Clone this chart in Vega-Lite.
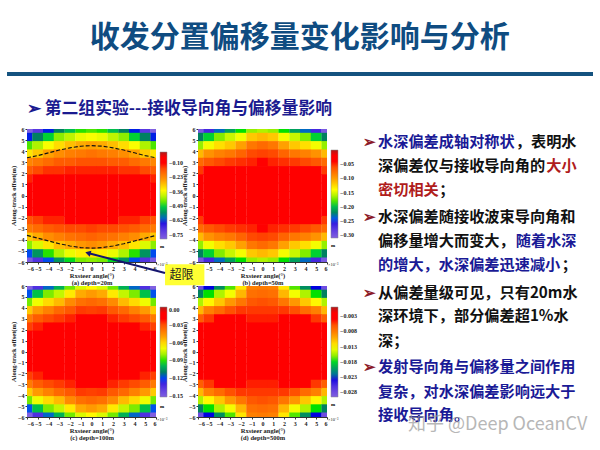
{"$schema":"https://vega.github.io/schema/vega-lite/v6.json","background":"white","padding":{"left":7,"top":0,"right":0,"bottom":0},"config":{"view":{"stroke":null},"axis":{"grid":false,"labelFont":"Liberation Serif","labelFontWeight":"bold","labelFontSize":6,"labelColor":"#222","labelPadding":1,"labelAngle":0,"titleFont":"Liberation Serif","titleFontWeight":"bold","titleFontSize":6.5,"titleColor":"#222","titlePadding":1,"titleLineHeight":7,"tickSize":2,"tickColor":"#333","domainColor":"#333"},"legend":{"labelFont":"Liberation Serif","labelFontWeight":"bold","labelFontSize":6,"labelColor":"#222","titleFont":"Liberation Serif","titleFontSize":5,"titleFontWeight":"bold","gradientStrokeColor":"#888","gradientStrokeWidth":0.5}},"datasets":{"a":[
{"x":-6,"y":6,"v":-0.79},{"x":-5,"y":6,"v":-0.71},{"x":-4,"y":6,"v":-0.63},{"x":-3,"y":6,"v":-0.57},{"x":-2,"y":6,"v":-0.51},{"x":-1,"y":6,"v":-0.47},{"x":0,"y":6,"v":-0.46},{"x":1,"y":6,"v":-0.47},{"x":2,"y":6,"v":-0.51},{"x":3,"y":6,"v":-0.57},{"x":4,"y":6,"v":-0.63},{"x":5,"y":6,"v":-0.71},{"x":6,"y":6,"v":-0.79},
{"x":-6,"y":5.25,"v":-0.63},{"x":-5,"y":5.25,"v":-0.57},{"x":-4,"y":5.25,"v":-0.49},{"x":-3,"y":5.25,"v":-0.43},{"x":-2,"y":5.25,"v":-0.4},{"x":-1,"y":5.25,"v":-0.37},{"x":0,"y":5.25,"v":-0.36},{"x":1,"y":5.25,"v":-0.37},{"x":2,"y":5.25,"v":-0.4},{"x":3,"y":5.25,"v":-0.43},{"x":4,"y":5.25,"v":-0.49},{"x":5,"y":5.25,"v":-0.57},{"x":6,"y":5.25,"v":-0.63},
{"x":-6,"y":4.5,"v":-0.46},{"x":-5,"y":4.5,"v":-0.41},{"x":-4,"y":4.5,"v":-0.36},{"x":-3,"y":4.5,"v":-0.32},{"x":-2,"y":4.5,"v":-0.29},{"x":-1,"y":4.5,"v":-0.27},{"x":0,"y":4.5,"v":-0.26},{"x":1,"y":4.5,"v":-0.27},{"x":2,"y":4.5,"v":-0.29},{"x":3,"y":4.5,"v":-0.32},{"x":4,"y":4.5,"v":-0.36},{"x":5,"y":4.5,"v":-0.41},{"x":6,"y":4.5,"v":-0.46},
{"x":-6,"y":3.75,"v":-0.33},{"x":-5,"y":3.75,"v":-0.3},{"x":-4,"y":3.75,"v":-0.26},{"x":-3,"y":3.75,"v":-0.24},{"x":-2,"y":3.75,"v":-0.22},{"x":-1,"y":3.75,"v":-0.21},{"x":0,"y":3.75,"v":-0.2},{"x":1,"y":3.75,"v":-0.21},{"x":2,"y":3.75,"v":-0.22},{"x":3,"y":3.75,"v":-0.24},{"x":4,"y":3.75,"v":-0.26},{"x":5,"y":3.75,"v":-0.3},{"x":6,"y":3.75,"v":-0.33},
{"x":-6,"y":3,"v":-0.23},{"x":-5,"y":3,"v":-0.21},{"x":-4,"y":3,"v":-0.19},{"x":-3,"y":3,"v":-0.17},{"x":-2,"y":3,"v":-0.17},{"x":-1,"y":3,"v":-0.16},{"x":0,"y":3,"v":-0.16},{"x":1,"y":3,"v":-0.16},{"x":2,"y":3,"v":-0.17},{"x":3,"y":3,"v":-0.17},{"x":4,"y":3,"v":-0.19},{"x":5,"y":3,"v":-0.21},{"x":6,"y":3,"v":-0.23},
{"x":-6,"y":2.25,"v":-0.17},{"x":-5,"y":2.25,"v":-0.15},{"x":-4,"y":2.25,"v":-0.13},{"x":-3,"y":2.25,"v":-0.13},{"x":-2,"y":2.25,"v":-0.12},{"x":-1,"y":2.25,"v":-0.12},{"x":0,"y":2.25,"v":-0.12},{"x":1,"y":2.25,"v":-0.12},{"x":2,"y":2.25,"v":-0.12},{"x":3,"y":2.25,"v":-0.13},{"x":4,"y":2.25,"v":-0.13},{"x":5,"y":2.25,"v":-0.15},{"x":6,"y":2.25,"v":-0.17},
{"x":-6,"y":1.5,"v":-0.12},{"x":-5,"y":1.5,"v":-0.11},{"x":-4,"y":1.5,"v":-0.1},{"x":-3,"y":1.5,"v":-0.09},{"x":-2,"y":1.5,"v":-0.09},{"x":-1,"y":1.5,"v":-0.09},{"x":0,"y":1.5,"v":-0.09},{"x":1,"y":1.5,"v":-0.09},{"x":2,"y":1.5,"v":-0.09},{"x":3,"y":1.5,"v":-0.09},{"x":4,"y":1.5,"v":-0.1},{"x":5,"y":1.5,"v":-0.11},{"x":6,"y":1.5,"v":-0.12},
{"x":-6,"y":0.75,"v":-0.09},{"x":-5,"y":0.75,"v":-0.08},{"x":-4,"y":0.75,"v":-0.08},{"x":-3,"y":0.75,"v":-0.08},{"x":-2,"y":0.75,"v":-0.08},{"x":-1,"y":0.75,"v":-0.08},{"x":0,"y":0.75,"v":-0.08},{"x":1,"y":0.75,"v":-0.08},{"x":2,"y":0.75,"v":-0.08},{"x":3,"y":0.75,"v":-0.08},{"x":4,"y":0.75,"v":-0.08},{"x":5,"y":0.75,"v":-0.08},{"x":6,"y":0.75,"v":-0.09},
{"x":-6,"y":0,"v":-0.08},{"x":-5,"y":0,"v":-0.08},{"x":-4,"y":0,"v":-0.08},{"x":-3,"y":0,"v":-0.08},{"x":-2,"y":0,"v":-0.08},{"x":-1,"y":0,"v":-0.08},{"x":0,"y":0,"v":-0.08},{"x":1,"y":0,"v":-0.08},{"x":2,"y":0,"v":-0.08},{"x":3,"y":0,"v":-0.08},{"x":4,"y":0,"v":-0.08},{"x":5,"y":0,"v":-0.08},{"x":6,"y":0,"v":-0.08},
{"x":-6,"y":-0.75,"v":-0.09},{"x":-5,"y":-0.75,"v":-0.08},{"x":-4,"y":-0.75,"v":-0.08},{"x":-3,"y":-0.75,"v":-0.08},{"x":-2,"y":-0.75,"v":-0.08},{"x":-1,"y":-0.75,"v":-0.08},{"x":0,"y":-0.75,"v":-0.08},{"x":1,"y":-0.75,"v":-0.08},{"x":2,"y":-0.75,"v":-0.08},{"x":3,"y":-0.75,"v":-0.08},{"x":4,"y":-0.75,"v":-0.08},{"x":5,"y":-0.75,"v":-0.08},{"x":6,"y":-0.75,"v":-0.09},
{"x":-6,"y":-1.5,"v":-0.11},{"x":-5,"y":-1.5,"v":-0.1},{"x":-4,"y":-1.5,"v":-0.09},{"x":-3,"y":-1.5,"v":-0.09},{"x":-2,"y":-1.5,"v":-0.09},{"x":-1,"y":-1.5,"v":-0.09},{"x":0,"y":-1.5,"v":-0.09},{"x":1,"y":-1.5,"v":-0.09},{"x":2,"y":-1.5,"v":-0.09},{"x":3,"y":-1.5,"v":-0.09},{"x":4,"y":-1.5,"v":-0.09},{"x":5,"y":-1.5,"v":-0.1},{"x":6,"y":-1.5,"v":-0.11},
{"x":-6,"y":-2.25,"v":-0.16},{"x":-5,"y":-2.25,"v":-0.14},{"x":-4,"y":-2.25,"v":-0.12},{"x":-3,"y":-2.25,"v":-0.12},{"x":-2,"y":-2.25,"v":-0.11},{"x":-1,"y":-2.25,"v":-0.11},{"x":0,"y":-2.25,"v":-0.11},{"x":1,"y":-2.25,"v":-0.11},{"x":2,"y":-2.25,"v":-0.11},{"x":3,"y":-2.25,"v":-0.12},{"x":4,"y":-2.25,"v":-0.12},{"x":5,"y":-2.25,"v":-0.14},{"x":6,"y":-2.25,"v":-0.16},
{"x":-6,"y":-3,"v":-0.21},{"x":-5,"y":-3,"v":-0.19},{"x":-4,"y":-3,"v":-0.17},{"x":-3,"y":-3,"v":-0.16},{"x":-2,"y":-3,"v":-0.15},{"x":-1,"y":-3,"v":-0.15},{"x":0,"y":-3,"v":-0.14},{"x":1,"y":-3,"v":-0.15},{"x":2,"y":-3,"v":-0.15},{"x":3,"y":-3,"v":-0.16},{"x":4,"y":-3,"v":-0.17},{"x":5,"y":-3,"v":-0.19},{"x":6,"y":-3,"v":-0.21},
{"x":-6,"y":-3.75,"v":-0.3},{"x":-5,"y":-3.75,"v":-0.27},{"x":-4,"y":-3.75,"v":-0.24},{"x":-3,"y":-3.75,"v":-0.22},{"x":-2,"y":-3.75,"v":-0.2},{"x":-1,"y":-3.75,"v":-0.19},{"x":0,"y":-3.75,"v":-0.18},{"x":1,"y":-3.75,"v":-0.19},{"x":2,"y":-3.75,"v":-0.2},{"x":3,"y":-3.75,"v":-0.22},{"x":4,"y":-3.75,"v":-0.24},{"x":5,"y":-3.75,"v":-0.27},{"x":6,"y":-3.75,"v":-0.3},
{"x":-6,"y":-4.5,"v":-0.43},{"x":-5,"y":-4.5,"v":-0.38},{"x":-4,"y":-4.5,"v":-0.33},{"x":-3,"y":-4.5,"v":-0.29},{"x":-2,"y":-4.5,"v":-0.27},{"x":-1,"y":-4.5,"v":-0.25},{"x":0,"y":-4.5,"v":-0.24},{"x":1,"y":-4.5,"v":-0.25},{"x":2,"y":-4.5,"v":-0.27},{"x":3,"y":-4.5,"v":-0.29},{"x":4,"y":-4.5,"v":-0.33},{"x":5,"y":-4.5,"v":-0.38},{"x":6,"y":-4.5,"v":-0.43},
{"x":-6,"y":-5.25,"v":-0.62},{"x":-5,"y":-5.25,"v":-0.55},{"x":-4,"y":-5.25,"v":-0.47},{"x":-3,"y":-5.25,"v":-0.41},{"x":-2,"y":-5.25,"v":-0.37},{"x":-1,"y":-5.25,"v":-0.34},{"x":0,"y":-5.25,"v":-0.33},{"x":1,"y":-5.25,"v":-0.34},{"x":2,"y":-5.25,"v":-0.37},{"x":3,"y":-5.25,"v":-0.41},{"x":4,"y":-5.25,"v":-0.47},{"x":5,"y":-5.25,"v":-0.55},{"x":6,"y":-5.25,"v":-0.62},
{"x":-6,"y":-6,"v":-0.78},{"x":-5,"y":-6,"v":-0.7},{"x":-4,"y":-6,"v":-0.62},{"x":-3,"y":-6,"v":-0.55},{"x":-2,"y":-6,"v":-0.48},{"x":-1,"y":-6,"v":-0.44},{"x":0,"y":-6,"v":-0.43},{"x":1,"y":-6,"v":-0.44},{"x":2,"y":-6,"v":-0.48},{"x":3,"y":-6,"v":-0.55},{"x":4,"y":-6,"v":-0.62},{"x":5,"y":-6,"v":-0.7},{"x":6,"y":-6,"v":-0.78}],
"b":[
{"x":-6,"y":6,"v":-0.304},{"x":-5,"y":6,"v":-0.267},{"x":-4,"y":6,"v":-0.236},{"x":-3,"y":6,"v":-0.211},{"x":-2,"y":6,"v":-0.186},{"x":-1,"y":6,"v":-0.167},{"x":0,"y":6,"v":-0.161},{"x":1,"y":6,"v":-0.167},{"x":2,"y":6,"v":-0.186},{"x":3,"y":6,"v":-0.211},{"x":4,"y":6,"v":-0.236},{"x":5,"y":6,"v":-0.267},{"x":6,"y":6,"v":-0.304},
{"x":-6,"y":5.25,"v":-0.223},{"x":-5,"y":5.25,"v":-0.192},{"x":-4,"y":5.25,"v":-0.171},{"x":-3,"y":5.25,"v":-0.155},{"x":-2,"y":5.25,"v":-0.143},{"x":-1,"y":5.25,"v":-0.118},{"x":0,"y":5.25,"v":-0.112},{"x":1,"y":5.25,"v":-0.118},{"x":2,"y":5.25,"v":-0.143},{"x":3,"y":5.25,"v":-0.155},{"x":4,"y":5.25,"v":-0.171},{"x":5,"y":5.25,"v":-0.192},{"x":6,"y":5.25,"v":-0.223},
{"x":-6,"y":4.5,"v":-0.167},{"x":-5,"y":4.5,"v":-0.143},{"x":-4,"y":4.5,"v":-0.127},{"x":-3,"y":4.5,"v":-0.118},{"x":-2,"y":4.5,"v":-0.102},{"x":-1,"y":4.5,"v":-0.081},{"x":0,"y":4.5,"v":-0.074},{"x":1,"y":4.5,"v":-0.081},{"x":2,"y":4.5,"v":-0.102},{"x":3,"y":4.5,"v":-0.118},{"x":4,"y":4.5,"v":-0.127},{"x":5,"y":4.5,"v":-0.143},{"x":6,"y":4.5,"v":-0.167},
{"x":-6,"y":3.75,"v":-0.112},{"x":-5,"y":3.75,"v":-0.096},{"x":-4,"y":3.75,"v":-0.087},{"x":-3,"y":3.75,"v":-0.081},{"x":-2,"y":3.75,"v":-0.071},{"x":-1,"y":3.75,"v":-0.059},{"x":0,"y":3.75,"v":-0.056},{"x":1,"y":3.75,"v":-0.059},{"x":2,"y":3.75,"v":-0.071},{"x":3,"y":3.75,"v":-0.081},{"x":4,"y":3.75,"v":-0.087},{"x":5,"y":3.75,"v":-0.096},{"x":6,"y":3.75,"v":-0.112},
{"x":-6,"y":3,"v":-0.074},{"x":-5,"y":3,"v":-0.065},{"x":-4,"y":3,"v":-0.059},{"x":-3,"y":3,"v":-0.053},{"x":-2,"y":3,"v":-0.05},{"x":-1,"y":3,"v":-0.047},{"x":0,"y":3,"v":-0.043},{"x":1,"y":3,"v":-0.047},{"x":2,"y":3,"v":-0.05},{"x":3,"y":3,"v":-0.053},{"x":4,"y":3,"v":-0.059},{"x":5,"y":3,"v":-0.065},{"x":6,"y":3,"v":-0.074},
{"x":-6,"y":2.25,"v":-0.053},{"x":-5,"y":2.25,"v":-0.043},{"x":-4,"y":2.25,"v":-0.04},{"x":-3,"y":2.25,"v":-0.037},{"x":-2,"y":2.25,"v":-0.037},{"x":-1,"y":2.25,"v":-0.034},{"x":0,"y":2.25,"v":-0.031},{"x":1,"y":2.25,"v":-0.034},{"x":2,"y":2.25,"v":-0.037},{"x":3,"y":2.25,"v":-0.037},{"x":4,"y":2.25,"v":-0.04},{"x":5,"y":2.25,"v":-0.043},{"x":6,"y":2.25,"v":-0.053},
{"x":-6,"y":1.5,"v":-0.037},{"x":-5,"y":1.5,"v":-0.031},{"x":-4,"y":1.5,"v":-0.031},{"x":-3,"y":1.5,"v":-0.028},{"x":-2,"y":1.5,"v":-0.028},{"x":-1,"y":1.5,"v":-0.028},{"x":0,"y":1.5,"v":-0.028},{"x":1,"y":1.5,"v":-0.028},{"x":2,"y":1.5,"v":-0.028},{"x":3,"y":1.5,"v":-0.028},{"x":4,"y":1.5,"v":-0.031},{"x":5,"y":1.5,"v":-0.031},{"x":6,"y":1.5,"v":-0.037},
{"x":-6,"y":0.75,"v":-0.031},{"x":-5,"y":0.75,"v":-0.029},{"x":-4,"y":0.75,"v":-0.028},{"x":-3,"y":0.75,"v":-0.028},{"x":-2,"y":0.75,"v":-0.028},{"x":-1,"y":0.75,"v":-0.028},{"x":0,"y":0.75,"v":-0.028},{"x":1,"y":0.75,"v":-0.028},{"x":2,"y":0.75,"v":-0.028},{"x":3,"y":0.75,"v":-0.028},{"x":4,"y":0.75,"v":-0.028},{"x":5,"y":0.75,"v":-0.029},{"x":6,"y":0.75,"v":-0.031},
{"x":-6,"y":0,"v":-0.028},{"x":-5,"y":0,"v":-0.028},{"x":-4,"y":0,"v":-0.028},{"x":-3,"y":0,"v":-0.028},{"x":-2,"y":0,"v":-0.028},{"x":-1,"y":0,"v":-0.028},{"x":0,"y":0,"v":-0.028},{"x":1,"y":0,"v":-0.028},{"x":2,"y":0,"v":-0.028},{"x":3,"y":0,"v":-0.028},{"x":4,"y":0,"v":-0.028},{"x":5,"y":0,"v":-0.028},{"x":6,"y":0,"v":-0.028},
{"x":-6,"y":-0.75,"v":-0.031},{"x":-5,"y":-0.75,"v":-0.029},{"x":-4,"y":-0.75,"v":-0.028},{"x":-3,"y":-0.75,"v":-0.028},{"x":-2,"y":-0.75,"v":-0.028},{"x":-1,"y":-0.75,"v":-0.028},{"x":0,"y":-0.75,"v":-0.028},{"x":1,"y":-0.75,"v":-0.028},{"x":2,"y":-0.75,"v":-0.028},{"x":3,"y":-0.75,"v":-0.028},{"x":4,"y":-0.75,"v":-0.028},{"x":5,"y":-0.75,"v":-0.029},{"x":6,"y":-0.75,"v":-0.031},
{"x":-6,"y":-1.5,"v":-0.037},{"x":-5,"y":-1.5,"v":-0.031},{"x":-4,"y":-1.5,"v":-0.031},{"x":-3,"y":-1.5,"v":-0.028},{"x":-2,"y":-1.5,"v":-0.028},{"x":-1,"y":-1.5,"v":-0.028},{"x":0,"y":-1.5,"v":-0.028},{"x":1,"y":-1.5,"v":-0.028},{"x":2,"y":-1.5,"v":-0.028},{"x":3,"y":-1.5,"v":-0.028},{"x":4,"y":-1.5,"v":-0.031},{"x":5,"y":-1.5,"v":-0.031},{"x":6,"y":-1.5,"v":-0.037},
{"x":-6,"y":-2.25,"v":-0.053},{"x":-5,"y":-2.25,"v":-0.043},{"x":-4,"y":-2.25,"v":-0.04},{"x":-3,"y":-2.25,"v":-0.037},{"x":-2,"y":-2.25,"v":-0.037},{"x":-1,"y":-2.25,"v":-0.034},{"x":0,"y":-2.25,"v":-0.031},{"x":1,"y":-2.25,"v":-0.034},{"x":2,"y":-2.25,"v":-0.037},{"x":3,"y":-2.25,"v":-0.037},{"x":4,"y":-2.25,"v":-0.04},{"x":5,"y":-2.25,"v":-0.043},{"x":6,"y":-2.25,"v":-0.053},
{"x":-6,"y":-3,"v":-0.074},{"x":-5,"y":-3,"v":-0.065},{"x":-4,"y":-3,"v":-0.059},{"x":-3,"y":-3,"v":-0.053},{"x":-2,"y":-3,"v":-0.05},{"x":-1,"y":-3,"v":-0.047},{"x":0,"y":-3,"v":-0.043},{"x":1,"y":-3,"v":-0.047},{"x":2,"y":-3,"v":-0.05},{"x":3,"y":-3,"v":-0.053},{"x":4,"y":-3,"v":-0.059},{"x":5,"y":-3,"v":-0.065},{"x":6,"y":-3,"v":-0.074},
{"x":-6,"y":-3.75,"v":-0.112},{"x":-5,"y":-3.75,"v":-0.096},{"x":-4,"y":-3.75,"v":-0.087},{"x":-3,"y":-3.75,"v":-0.081},{"x":-2,"y":-3.75,"v":-0.071},{"x":-1,"y":-3.75,"v":-0.059},{"x":0,"y":-3.75,"v":-0.056},{"x":1,"y":-3.75,"v":-0.059},{"x":2,"y":-3.75,"v":-0.071},{"x":3,"y":-3.75,"v":-0.081},{"x":4,"y":-3.75,"v":-0.087},{"x":5,"y":-3.75,"v":-0.096},{"x":6,"y":-3.75,"v":-0.112},
{"x":-6,"y":-4.5,"v":-0.167},{"x":-5,"y":-4.5,"v":-0.143},{"x":-4,"y":-4.5,"v":-0.127},{"x":-3,"y":-4.5,"v":-0.118},{"x":-2,"y":-4.5,"v":-0.102},{"x":-1,"y":-4.5,"v":-0.081},{"x":0,"y":-4.5,"v":-0.074},{"x":1,"y":-4.5,"v":-0.081},{"x":2,"y":-4.5,"v":-0.102},{"x":3,"y":-4.5,"v":-0.118},{"x":4,"y":-4.5,"v":-0.127},{"x":5,"y":-4.5,"v":-0.143},{"x":6,"y":-4.5,"v":-0.167},
{"x":-6,"y":-5.25,"v":-0.223},{"x":-5,"y":-5.25,"v":-0.192},{"x":-4,"y":-5.25,"v":-0.171},{"x":-3,"y":-5.25,"v":-0.155},{"x":-2,"y":-5.25,"v":-0.143},{"x":-1,"y":-5.25,"v":-0.118},{"x":0,"y":-5.25,"v":-0.112},{"x":1,"y":-5.25,"v":-0.118},{"x":2,"y":-5.25,"v":-0.143},{"x":3,"y":-5.25,"v":-0.155},{"x":4,"y":-5.25,"v":-0.171},{"x":5,"y":-5.25,"v":-0.192},{"x":6,"y":-5.25,"v":-0.223},
{"x":-6,"y":-6,"v":-0.304},{"x":-5,"y":-6,"v":-0.267},{"x":-4,"y":-6,"v":-0.236},{"x":-3,"y":-6,"v":-0.211},{"x":-2,"y":-6,"v":-0.186},{"x":-1,"y":-6,"v":-0.167},{"x":0,"y":-6,"v":-0.161},{"x":1,"y":-6,"v":-0.167},{"x":2,"y":-6,"v":-0.186},{"x":3,"y":-6,"v":-0.211},{"x":4,"y":-6,"v":-0.236},{"x":5,"y":-6,"v":-0.267},{"x":6,"y":-6,"v":-0.304}],
"c":[
{"x":-6,"y":6,"v":-0.152},{"x":-5,"y":6,"v":-0.134},{"x":-4,"y":6,"v":-0.116},{"x":-3,"y":6,"v":-0.1},{"x":-2,"y":6,"v":-0.085},{"x":-1,"y":6,"v":-0.073},{"x":0,"y":6,"v":-0.067},{"x":1,"y":6,"v":-0.073},{"x":2,"y":6,"v":-0.085},{"x":3,"y":6,"v":-0.1},{"x":4,"y":6,"v":-0.116},{"x":5,"y":6,"v":-0.134},{"x":6,"y":6,"v":-0.152},
{"x":-6,"y":5.25,"v":-0.119},{"x":-5,"y":5.25,"v":-0.097},{"x":-4,"y":5.25,"v":-0.084},{"x":-3,"y":5.25,"v":-0.076},{"x":-2,"y":5.25,"v":-0.064},{"x":-1,"y":5.25,"v":-0.052},{"x":0,"y":5.25,"v":-0.049},{"x":1,"y":5.25,"v":-0.052},{"x":2,"y":5.25,"v":-0.064},{"x":3,"y":5.25,"v":-0.076},{"x":4,"y":5.25,"v":-0.084},{"x":5,"y":5.25,"v":-0.097},{"x":6,"y":5.25,"v":-0.119},
{"x":-6,"y":4.5,"v":-0.085},{"x":-5,"y":4.5,"v":-0.07},{"x":-4,"y":4.5,"v":-0.061},{"x":-3,"y":4.5,"v":-0.055},{"x":-2,"y":4.5,"v":-0.046},{"x":-1,"y":4.5,"v":-0.038},{"x":0,"y":4.5,"v":-0.036},{"x":1,"y":4.5,"v":-0.038},{"x":2,"y":4.5,"v":-0.046},{"x":3,"y":4.5,"v":-0.055},{"x":4,"y":4.5,"v":-0.061},{"x":5,"y":4.5,"v":-0.07},{"x":6,"y":4.5,"v":-0.085},
{"x":-6,"y":3.75,"v":-0.058},{"x":-5,"y":3.75,"v":-0.049},{"x":-4,"y":3.75,"v":-0.043},{"x":-3,"y":3.75,"v":-0.036},{"x":-2,"y":3.75,"v":-0.032},{"x":-1,"y":3.75,"v":-0.026},{"x":0,"y":3.75,"v":-0.027},{"x":1,"y":3.75,"v":-0.026},{"x":2,"y":3.75,"v":-0.032},{"x":3,"y":3.75,"v":-0.036},{"x":4,"y":3.75,"v":-0.043},{"x":5,"y":3.75,"v":-0.049},{"x":6,"y":3.75,"v":-0.058},
{"x":-6,"y":3,"v":-0.041},{"x":-5,"y":3,"v":-0.033},{"x":-4,"y":3,"v":-0.029},{"x":-3,"y":3,"v":-0.026},{"x":-2,"y":3,"v":-0.023},{"x":-1,"y":3,"v":-0.02},{"x":0,"y":3,"v":-0.021},{"x":1,"y":3,"v":-0.02},{"x":2,"y":3,"v":-0.023},{"x":3,"y":3,"v":-0.026},{"x":4,"y":3,"v":-0.029},{"x":5,"y":3,"v":-0.033},{"x":6,"y":3,"v":-0.041},
{"x":-6,"y":2.25,"v":-0.027},{"x":-5,"y":2.25,"v":-0.023},{"x":-4,"y":2.25,"v":-0.02},{"x":-3,"y":2.25,"v":-0.018},{"x":-2,"y":2.25,"v":-0.017},{"x":-1,"y":2.25,"v":-0.015},{"x":0,"y":2.25,"v":-0.017},{"x":1,"y":2.25,"v":-0.015},{"x":2,"y":2.25,"v":-0.017},{"x":3,"y":2.25,"v":-0.018},{"x":4,"y":2.25,"v":-0.02},{"x":5,"y":2.25,"v":-0.023},{"x":6,"y":2.25,"v":-0.027},
{"x":-6,"y":1.5,"v":-0.018},{"x":-5,"y":1.5,"v":-0.015},{"x":-4,"y":1.5,"v":-0.014},{"x":-3,"y":1.5,"v":-0.014},{"x":-2,"y":1.5,"v":-0.014},{"x":-1,"y":1.5,"v":-0.014},{"x":0,"y":1.5,"v":-0.014},{"x":1,"y":1.5,"v":-0.014},{"x":2,"y":1.5,"v":-0.014},{"x":3,"y":1.5,"v":-0.014},{"x":4,"y":1.5,"v":-0.014},{"x":5,"y":1.5,"v":-0.015},{"x":6,"y":1.5,"v":-0.018},
{"x":-6,"y":0.75,"v":-0.015},{"x":-5,"y":0.75,"v":-0.014},{"x":-4,"y":0.75,"v":-0.014},{"x":-3,"y":0.75,"v":-0.014},{"x":-2,"y":0.75,"v":-0.014},{"x":-1,"y":0.75,"v":-0.014},{"x":0,"y":0.75,"v":-0.014},{"x":1,"y":0.75,"v":-0.014},{"x":2,"y":0.75,"v":-0.014},{"x":3,"y":0.75,"v":-0.014},{"x":4,"y":0.75,"v":-0.014},{"x":5,"y":0.75,"v":-0.014},{"x":6,"y":0.75,"v":-0.015},
{"x":-6,"y":0,"v":-0.014},{"x":-5,"y":0,"v":-0.014},{"x":-4,"y":0,"v":-0.014},{"x":-3,"y":0,"v":-0.014},{"x":-2,"y":0,"v":-0.014},{"x":-1,"y":0,"v":-0.014},{"x":0,"y":0,"v":-0.014},{"x":1,"y":0,"v":-0.014},{"x":2,"y":0,"v":-0.014},{"x":3,"y":0,"v":-0.014},{"x":4,"y":0,"v":-0.014},{"x":5,"y":0,"v":-0.014},{"x":6,"y":0,"v":-0.014},
{"x":-6,"y":-0.75,"v":-0.015},{"x":-5,"y":-0.75,"v":-0.014},{"x":-4,"y":-0.75,"v":-0.014},{"x":-3,"y":-0.75,"v":-0.014},{"x":-2,"y":-0.75,"v":-0.014},{"x":-1,"y":-0.75,"v":-0.014},{"x":0,"y":-0.75,"v":-0.014},{"x":1,"y":-0.75,"v":-0.014},{"x":2,"y":-0.75,"v":-0.014},{"x":3,"y":-0.75,"v":-0.014},{"x":4,"y":-0.75,"v":-0.014},{"x":5,"y":-0.75,"v":-0.014},{"x":6,"y":-0.75,"v":-0.015},
{"x":-6,"y":-1.5,"v":-0.018},{"x":-5,"y":-1.5,"v":-0.015},{"x":-4,"y":-1.5,"v":-0.014},{"x":-3,"y":-1.5,"v":-0.014},{"x":-2,"y":-1.5,"v":-0.014},{"x":-1,"y":-1.5,"v":-0.014},{"x":0,"y":-1.5,"v":-0.014},{"x":1,"y":-1.5,"v":-0.014},{"x":2,"y":-1.5,"v":-0.014},{"x":3,"y":-1.5,"v":-0.014},{"x":4,"y":-1.5,"v":-0.014},{"x":5,"y":-1.5,"v":-0.015},{"x":6,"y":-1.5,"v":-0.018},
{"x":-6,"y":-2.25,"v":-0.027},{"x":-5,"y":-2.25,"v":-0.023},{"x":-4,"y":-2.25,"v":-0.02},{"x":-3,"y":-2.25,"v":-0.018},{"x":-2,"y":-2.25,"v":-0.017},{"x":-1,"y":-2.25,"v":-0.015},{"x":0,"y":-2.25,"v":-0.017},{"x":1,"y":-2.25,"v":-0.015},{"x":2,"y":-2.25,"v":-0.017},{"x":3,"y":-2.25,"v":-0.018},{"x":4,"y":-2.25,"v":-0.02},{"x":5,"y":-2.25,"v":-0.023},{"x":6,"y":-2.25,"v":-0.027},
{"x":-6,"y":-3,"v":-0.041},{"x":-5,"y":-3,"v":-0.033},{"x":-4,"y":-3,"v":-0.029},{"x":-3,"y":-3,"v":-0.026},{"x":-2,"y":-3,"v":-0.023},{"x":-1,"y":-3,"v":-0.02},{"x":0,"y":-3,"v":-0.021},{"x":1,"y":-3,"v":-0.02},{"x":2,"y":-3,"v":-0.023},{"x":3,"y":-3,"v":-0.026},{"x":4,"y":-3,"v":-0.029},{"x":5,"y":-3,"v":-0.033},{"x":6,"y":-3,"v":-0.041},
{"x":-6,"y":-3.75,"v":-0.058},{"x":-5,"y":-3.75,"v":-0.049},{"x":-4,"y":-3.75,"v":-0.043},{"x":-3,"y":-3.75,"v":-0.036},{"x":-2,"y":-3.75,"v":-0.032},{"x":-1,"y":-3.75,"v":-0.026},{"x":0,"y":-3.75,"v":-0.027},{"x":1,"y":-3.75,"v":-0.026},{"x":2,"y":-3.75,"v":-0.032},{"x":3,"y":-3.75,"v":-0.036},{"x":4,"y":-3.75,"v":-0.043},{"x":5,"y":-3.75,"v":-0.049},{"x":6,"y":-3.75,"v":-0.058},
{"x":-6,"y":-4.5,"v":-0.085},{"x":-5,"y":-4.5,"v":-0.07},{"x":-4,"y":-4.5,"v":-0.061},{"x":-3,"y":-4.5,"v":-0.055},{"x":-2,"y":-4.5,"v":-0.046},{"x":-1,"y":-4.5,"v":-0.038},{"x":0,"y":-4.5,"v":-0.036},{"x":1,"y":-4.5,"v":-0.038},{"x":2,"y":-4.5,"v":-0.046},{"x":3,"y":-4.5,"v":-0.055},{"x":4,"y":-4.5,"v":-0.061},{"x":5,"y":-4.5,"v":-0.07},{"x":6,"y":-4.5,"v":-0.085},
{"x":-6,"y":-5.25,"v":-0.119},{"x":-5,"y":-5.25,"v":-0.097},{"x":-4,"y":-5.25,"v":-0.084},{"x":-3,"y":-5.25,"v":-0.076},{"x":-2,"y":-5.25,"v":-0.064},{"x":-1,"y":-5.25,"v":-0.052},{"x":0,"y":-5.25,"v":-0.049},{"x":1,"y":-5.25,"v":-0.052},{"x":2,"y":-5.25,"v":-0.064},{"x":3,"y":-5.25,"v":-0.076},{"x":4,"y":-5.25,"v":-0.084},{"x":5,"y":-5.25,"v":-0.097},{"x":6,"y":-5.25,"v":-0.119},
{"x":-6,"y":-6,"v":-0.152},{"x":-5,"y":-6,"v":-0.134},{"x":-4,"y":-6,"v":-0.116},{"x":-3,"y":-6,"v":-0.1},{"x":-2,"y":-6,"v":-0.085},{"x":-1,"y":-6,"v":-0.073},{"x":0,"y":-6,"v":-0.067},{"x":1,"y":-6,"v":-0.073},{"x":2,"y":-6,"v":-0.085},{"x":3,"y":-6,"v":-0.1},{"x":4,"y":-6,"v":-0.116},{"x":5,"y":-6,"v":-0.134},{"x":6,"y":-6,"v":-0.152}],
"d":[
{"x":-6,"y":6,"v":-0.028},{"x":-5,"y":6,"v":-0.0236},{"x":-4,"y":6,"v":-0.0207},{"x":-3,"y":6,"v":-0.0171},{"x":-2,"y":6,"v":-0.0124},{"x":-1,"y":6,"v":-0.0083},{"x":0,"y":6,"v":-0.008},{"x":1,"y":6,"v":-0.0083},{"x":2,"y":6,"v":-0.0124},{"x":3,"y":6,"v":-0.0171},{"x":4,"y":6,"v":-0.0207},{"x":5,"y":6,"v":-0.0236},{"x":6,"y":6,"v":-0.028},
{"x":-6,"y":5.25,"v":-0.0212},{"x":-5,"y":5.25,"v":-0.0177},{"x":-4,"y":5.25,"v":-0.0153},{"x":-3,"y":5.25,"v":-0.0136},{"x":-2,"y":5.25,"v":-0.0106},{"x":-1,"y":5.25,"v":-0.0074},{"x":0,"y":5.25,"v":-0.0071},{"x":1,"y":5.25,"v":-0.0074},{"x":2,"y":5.25,"v":-0.0106},{"x":3,"y":5.25,"v":-0.0136},{"x":4,"y":5.25,"v":-0.0153},{"x":5,"y":5.25,"v":-0.0177},{"x":6,"y":5.25,"v":-0.0212},
{"x":-6,"y":4.5,"v":-0.0153},{"x":-5,"y":4.5,"v":-0.013},{"x":-4,"y":4.5,"v":-0.0112},{"x":-3,"y":4.5,"v":-0.0094},{"x":-2,"y":4.5,"v":-0.0077},{"x":-1,"y":4.5,"v":-0.0062},{"x":0,"y":4.5,"v":-0.0059},{"x":1,"y":4.5,"v":-0.0062},{"x":2,"y":4.5,"v":-0.0077},{"x":3,"y":4.5,"v":-0.0094},{"x":4,"y":4.5,"v":-0.0112},{"x":5,"y":4.5,"v":-0.013},{"x":6,"y":4.5,"v":-0.0153},
{"x":-6,"y":3.75,"v":-0.0106},{"x":-5,"y":3.75,"v":-0.0083},{"x":-4,"y":3.75,"v":-0.0071},{"x":-3,"y":3.75,"v":-0.0059},{"x":-2,"y":3.75,"v":-0.005},{"x":-1,"y":3.75,"v":-0.005},{"x":0,"y":3.75,"v":-0.005},{"x":1,"y":3.75,"v":-0.005},{"x":2,"y":3.75,"v":-0.005},{"x":3,"y":3.75,"v":-0.0059},{"x":4,"y":3.75,"v":-0.0071},{"x":5,"y":3.75,"v":-0.0083},{"x":6,"y":3.75,"v":-0.0106},
{"x":-6,"y":3,"v":-0.0065},{"x":-5,"y":3,"v":-0.005},{"x":-4,"y":3,"v":-0.0041},{"x":-3,"y":3,"v":-0.0038},{"x":-2,"y":3,"v":-0.0038},{"x":-1,"y":3,"v":-0.0044},{"x":0,"y":3,"v":-0.0044},{"x":1,"y":3,"v":-0.0044},{"x":2,"y":3,"v":-0.0038},{"x":3,"y":3,"v":-0.0038},{"x":4,"y":3,"v":-0.0041},{"x":5,"y":3,"v":-0.005},{"x":6,"y":3,"v":-0.0065},
{"x":-6,"y":2.25,"v":-0.0038},{"x":-5,"y":2.25,"v":-0.0032},{"x":-4,"y":2.25,"v":-0.003},{"x":-3,"y":2.25,"v":-0.003},{"x":-2,"y":2.25,"v":-0.0032},{"x":-1,"y":2.25,"v":-0.0041},{"x":0,"y":2.25,"v":-0.0038},{"x":1,"y":2.25,"v":-0.0041},{"x":2,"y":2.25,"v":-0.0032},{"x":3,"y":2.25,"v":-0.003},{"x":4,"y":2.25,"v":-0.003},{"x":5,"y":2.25,"v":-0.0032},{"x":6,"y":2.25,"v":-0.0038},
{"x":-6,"y":1.5,"v":-0.003},{"x":-5,"y":1.5,"v":-0.0027},{"x":-4,"y":1.5,"v":-0.0027},{"x":-3,"y":1.5,"v":-0.0027},{"x":-2,"y":1.5,"v":-0.003},{"x":-1,"y":1.5,"v":-0.0038},{"x":0,"y":1.5,"v":-0.0035},{"x":1,"y":1.5,"v":-0.0038},{"x":2,"y":1.5,"v":-0.003},{"x":3,"y":1.5,"v":-0.0027},{"x":4,"y":1.5,"v":-0.0027},{"x":5,"y":1.5,"v":-0.0027},{"x":6,"y":1.5,"v":-0.003},
{"x":-6,"y":0.75,"v":-0.0027},{"x":-5,"y":0.75,"v":-0.0027},{"x":-4,"y":0.75,"v":-0.0027},{"x":-3,"y":0.75,"v":-0.0027},{"x":-2,"y":0.75,"v":-0.003},{"x":-1,"y":0.75,"v":-0.0035},{"x":0,"y":0.75,"v":-0.0032},{"x":1,"y":0.75,"v":-0.0035},{"x":2,"y":0.75,"v":-0.003},{"x":3,"y":0.75,"v":-0.0027},{"x":4,"y":0.75,"v":-0.0027},{"x":5,"y":0.75,"v":-0.0027},{"x":6,"y":0.75,"v":-0.0027},
{"x":-6,"y":0,"v":-0.0027},{"x":-5,"y":0,"v":-0.0027},{"x":-4,"y":0,"v":-0.0027},{"x":-3,"y":0,"v":-0.0027},{"x":-2,"y":0,"v":-0.003},{"x":-1,"y":0,"v":-0.0035},{"x":0,"y":0,"v":-0.0032},{"x":1,"y":0,"v":-0.0035},{"x":2,"y":0,"v":-0.003},{"x":3,"y":0,"v":-0.0027},{"x":4,"y":0,"v":-0.0027},{"x":5,"y":0,"v":-0.0027},{"x":6,"y":0,"v":-0.0027},
{"x":-6,"y":-0.75,"v":-0.0027},{"x":-5,"y":-0.75,"v":-0.0027},{"x":-4,"y":-0.75,"v":-0.0027},{"x":-3,"y":-0.75,"v":-0.0027},{"x":-2,"y":-0.75,"v":-0.003},{"x":-1,"y":-0.75,"v":-0.0035},{"x":0,"y":-0.75,"v":-0.0032},{"x":1,"y":-0.75,"v":-0.0035},{"x":2,"y":-0.75,"v":-0.003},{"x":3,"y":-0.75,"v":-0.0027},{"x":4,"y":-0.75,"v":-0.0027},{"x":5,"y":-0.75,"v":-0.0027},{"x":6,"y":-0.75,"v":-0.0027},
{"x":-6,"y":-1.5,"v":-0.003},{"x":-5,"y":-1.5,"v":-0.0027},{"x":-4,"y":-1.5,"v":-0.0027},{"x":-3,"y":-1.5,"v":-0.0027},{"x":-2,"y":-1.5,"v":-0.003},{"x":-1,"y":-1.5,"v":-0.0038},{"x":0,"y":-1.5,"v":-0.0035},{"x":1,"y":-1.5,"v":-0.0038},{"x":2,"y":-1.5,"v":-0.003},{"x":3,"y":-1.5,"v":-0.0027},{"x":4,"y":-1.5,"v":-0.0027},{"x":5,"y":-1.5,"v":-0.0027},{"x":6,"y":-1.5,"v":-0.003},
{"x":-6,"y":-2.25,"v":-0.0038},{"x":-5,"y":-2.25,"v":-0.0032},{"x":-4,"y":-2.25,"v":-0.003},{"x":-3,"y":-2.25,"v":-0.003},{"x":-2,"y":-2.25,"v":-0.0032},{"x":-1,"y":-2.25,"v":-0.0041},{"x":0,"y":-2.25,"v":-0.0038},{"x":1,"y":-2.25,"v":-0.0041},{"x":2,"y":-2.25,"v":-0.0032},{"x":3,"y":-2.25,"v":-0.003},{"x":4,"y":-2.25,"v":-0.003},{"x":5,"y":-2.25,"v":-0.0032},{"x":6,"y":-2.25,"v":-0.0038},
{"x":-6,"y":-3,"v":-0.0065},{"x":-5,"y":-3,"v":-0.005},{"x":-4,"y":-3,"v":-0.0041},{"x":-3,"y":-3,"v":-0.0038},{"x":-2,"y":-3,"v":-0.0038},{"x":-1,"y":-3,"v":-0.0044},{"x":0,"y":-3,"v":-0.0044},{"x":1,"y":-3,"v":-0.0044},{"x":2,"y":-3,"v":-0.0038},{"x":3,"y":-3,"v":-0.0038},{"x":4,"y":-3,"v":-0.0041},{"x":5,"y":-3,"v":-0.005},{"x":6,"y":-3,"v":-0.0065},
{"x":-6,"y":-3.75,"v":-0.0106},{"x":-5,"y":-3.75,"v":-0.0083},{"x":-4,"y":-3.75,"v":-0.0071},{"x":-3,"y":-3.75,"v":-0.0059},{"x":-2,"y":-3.75,"v":-0.005},{"x":-1,"y":-3.75,"v":-0.005},{"x":0,"y":-3.75,"v":-0.005},{"x":1,"y":-3.75,"v":-0.005},{"x":2,"y":-3.75,"v":-0.005},{"x":3,"y":-3.75,"v":-0.0059},{"x":4,"y":-3.75,"v":-0.0071},{"x":5,"y":-3.75,"v":-0.0083},{"x":6,"y":-3.75,"v":-0.0106},
{"x":-6,"y":-4.5,"v":-0.0153},{"x":-5,"y":-4.5,"v":-0.013},{"x":-4,"y":-4.5,"v":-0.0112},{"x":-3,"y":-4.5,"v":-0.0094},{"x":-2,"y":-4.5,"v":-0.0077},{"x":-1,"y":-4.5,"v":-0.0062},{"x":0,"y":-4.5,"v":-0.0059},{"x":1,"y":-4.5,"v":-0.0062},{"x":2,"y":-4.5,"v":-0.0077},{"x":3,"y":-4.5,"v":-0.0094},{"x":4,"y":-4.5,"v":-0.0112},{"x":5,"y":-4.5,"v":-0.013},{"x":6,"y":-4.5,"v":-0.0153},
{"x":-6,"y":-5.25,"v":-0.0212},{"x":-5,"y":-5.25,"v":-0.0177},{"x":-4,"y":-5.25,"v":-0.0153},{"x":-3,"y":-5.25,"v":-0.0136},{"x":-2,"y":-5.25,"v":-0.0106},{"x":-1,"y":-5.25,"v":-0.0074},{"x":0,"y":-5.25,"v":-0.0071},{"x":1,"y":-5.25,"v":-0.0074},{"x":2,"y":-5.25,"v":-0.0106},{"x":3,"y":-5.25,"v":-0.0136},{"x":4,"y":-5.25,"v":-0.0153},{"x":5,"y":-5.25,"v":-0.0177},{"x":6,"y":-5.25,"v":-0.0212},
{"x":-6,"y":-6,"v":-0.028},{"x":-5,"y":-6,"v":-0.0236},{"x":-4,"y":-6,"v":-0.0207},{"x":-3,"y":-6,"v":-0.0171},{"x":-2,"y":-6,"v":-0.0124},{"x":-1,"y":-6,"v":-0.0083},{"x":0,"y":-6,"v":-0.008},{"x":1,"y":-6,"v":-0.0083},{"x":2,"y":-6,"v":-0.0124},{"x":3,"y":-6,"v":-0.0171},{"x":4,"y":-6,"v":-0.0207},{"x":5,"y":-6,"v":-0.0236},{"x":6,"y":-6,"v":-0.028}],
"limit":[{"s":"top","x":-6,"y":3.4},{"s":"top","x":-5,"y":3.6},{"s":"top","x":-4,"y":3.85},{"s":"top","x":-3,"y":4.1},{"s":"top","x":-2,"y":4.3},{"s":"top","x":-1,"y":4.45},{"s":"top","x":0,"y":4.5},{"s":"top","x":1,"y":4.45},{"s":"top","x":2,"y":4.3},{"s":"top","x":3,"y":4.1},{"s":"top","x":4,"y":3.85},{"s":"top","x":5,"y":3.6},{"s":"top","x":6,"y":3.4},{"s":"bottom","x":-6,"y":-3.6},{"s":"bottom","x":-5,"y":-3.85},{"s":"bottom","x":-4,"y":-4.1},{"s":"bottom","x":-3,"y":-4.35},{"s":"bottom","x":-2,"y":-4.55},{"s":"bottom","x":-1,"y":-4.7},{"s":"bottom","x":0,"y":-4.75},{"s":"bottom","x":1,"y":-4.7},{"s":"bottom","x":2,"y":-4.55},{"s":"bottom","x":3,"y":-4.35},{"s":"bottom","x":4,"y":-4.1},{"s":"bottom","x":5,"y":-3.85},{"s":"bottom","x":6,"y":-3.6}],"arrow":[{"x":6.84,"y":-7},{"x":-0.33,"y":-5.19}],"exp":[{"x":6.1,"y":-6.3,"t":"×10⁻³"}],"notes1":[{"c":-1,"l":0,"t":"➢","k":"bullet"},{"c":0,"l":0,"t":"水深偏差成轴对称状","k":"blue"},{"c":9,"l":0,"t":"，表明水","k":"plain"},{"c":0,"l":1,"t":"深偏差仅与接收导向角的","k":"plain"},{"c":11,"l":1,"t":"大小","k":"red"},{"c":0,"l":2,"t":"密切相关","k":"red"},{"c":4,"l":2,"t":"；","k":"plain"},{"c":-1,"l":3.125,"t":"➢","k":"bullet"},{"c":0,"l":3.125,"t":"水深偏差随接收波束导向角和","k":"plain"},{"c":0,"l":4.125,"t":"偏移量增大而变大，","k":"plain"},{"c":9,"l":4.125,"t":"随着水深","k":"blue"},{"c":0,"l":5.125,"t":"的增大，水深偏差迅速减小","k":"blue"},{"c":12,"l":5.125,"t":"；","k":"plain"}],"notes2":[{"c":-1,"l":0,"t":"➢","k":"bullet"},{"c":0,"l":0,"t":"从偏差量级可见，只有20m水","k":"plain"},{"c":0,"l":0.96,"t":"深环境下，部分偏差超1%水","k":"plain"},{"c":0,"l":2,"t":"深；","k":"plain"},{"c":-1,"l":3.08,"t":"➢","k":"bullet"},{"c":0,"l":3.08,"t":"发射导向角与偏移量之间作用","k":"blue"},{"c":0,"l":4.13,"t":"复杂，对水深偏差影响远大于","k":"blue"},{"c":0,"l":5.08,"t":"接收导向角。","k":"blue"}]},"spacing":6,"vconcat":[{"width":566,"height":120,"data":{"values":[{"x":-0.0353,"x2":1,"y":0.4,"y2":0.367}]},"layer":[{"mark":{"type":"rect","color":"#14527f"},"encoding":{"x":{"field":"x","type":"quantitative","scale":{"domain":[0,1]},"axis":null},"x2":{"field":"x2"},"y":{"field":"y","type":"quantitative","scale":{"domain":[0,1]},"axis":null},"y2":{"field":"y2"}}},{"data":{"values":[{"x":0.482,"y":0.683,"t":"收发分置偏移量变化影响与分析"}]},"mark":{"type":"text","font":"Noto Sans CJK SC","fontWeight":"bold","fontSize":30,"color":"#0f4c81"},"encoding":{"x":{"field":"x","type":"quantitative"},"y":{"field":"y","type":"quantitative"},"text":{"field":"t"}}},{"data":{"values":[{"x":0,"y":0.092,"t":"➢ 第二组实验---接收导向角与偏移量影响"}]},"mark":{"type":"text","align":"left","font":"Noto Sans CJK SC","fontWeight":"bold","fontSize":16.8,"color":"#1a1a90"},"encoding":{"x":{"field":"x","type":"quantitative"},"y":{"field":"y","type":"quantitative"},"text":{"field":"t"}}}]},{"columns":3,"bounds":"flush","spacing":{"column":42,"row":24},"resolve":{"scale":{"color":"independent"}},"concat":[{"width":129,"height":133,"layer":[{"data":{"name":"a"},"mark":{"type":"rect","width":11,"height":9,"clip":true},"encoding":{"x":{"field":"x","type":"quantitative","scale":{"domain":[-6,6],"nice":false,"zero":false},"axis":{"tickCount":13,"labelOverlap":false,"values":[-6,-5,-4,-3,-2,-1,0,1,2,3,4,5,6],"title":["Rxsteer angle(°)","(a)  depth=20m"]}},"y":{"field":"y","type":"quantitative","scale":{"domain":[-6,6],"nice":false,"zero":false},"axis":{"tickCount":13,"labelOverlap":false,"values":[-6,-5,-4,-3,-2,-1,0,1,2,3,4,5,6],"title":"Along-track offset(m)"}},"color":{"field":"v","type":"quantitative","scale":{"domain":[-0.79,-0.632,-0.569,-0.474,-0.356,-0.237,-0.11,-0.047,0],"range":["#8060e0","#0000e0","#008060","#00e000","#ffff00","#ff8a00","#ff0000","#ff0000","#b01a1a"]},"legend":{"orient":"none","legendX":133,"legendY":23,"gradientLength":87,"gradientThickness":7,"title":"m","titleOrient":"bottom","values":[-0.75,-0.62,-0.49,-0.36,-0.23,-0.1],"format":".2f"}}}},{"data":{"name":"limit"},"mark":{"type":"line","color":"#111","strokeWidth":1.1,"strokeDash":[4,2]},"encoding":{"x":{"field":"x","type":"quantitative"},"y":{"field":"y","type":"quantitative"},"detail":{"field":"s"}}},{"data":{"values":[{"x":6.84,"x2":10.5,"y":-6.2,"y2":-8.1}]},"mark":{"type":"rect","color":"#ffff33"},"encoding":{"x":{"field":"x","type":"quantitative"},"x2":{"field":"x2"},"y":{"field":"y","type":"quantitative"},"y2":{"field":"y2"}}},{"data":{"values":[{"x":8.37,"y":-7.15,"t":"超限"}]},"mark":{"type":"text","font":"Noto Sans CJK SC","fontSize":12,"color":"#222"},"encoding":{"x":{"field":"x","type":"quantitative"},"y":{"field":"y","type":"quantitative"},"text":{"field":"t"}}},{"data":{"name":"arrow"},"mark":{"type":"line","color":"#14146e","strokeWidth":2},"encoding":{"x":{"field":"x","type":"quantitative"},"y":{"field":"y","type":"quantitative"}}},{"data":{"values":[{"x":-0.33,"y":-5.19}]},"mark":{"type":"point","shape":"triangle-up","angle":285,"filled":true,"size":40,"color":"#14146e","opacity":1},"encoding":{"x":{"field":"x","type":"quantitative"},"y":{"field":"y","type":"quantitative"}}},{"data":{"name":"exp"},"mark":{"type":"text","align":"left","font":"Liberation Serif","fontSize":4.5,"color":"#222"},"encoding":{"x":{"field":"x","type":"quantitative"},"y":{"field":"y","type":"quantitative"},"text":{"field":"t"}}}]},{"width":129,"height":133,"layer":[{"data":{"name":"b"},"mark":{"type":"rect","width":11,"height":9,"clip":true},"encoding":{"x":{"field":"x","type":"quantitative","scale":{"domain":[-6,6],"nice":false,"zero":false},"axis":{"tickCount":13,"labelOverlap":false,"values":[-5,-4,-3,-2,-1,0,1,2,3,4,5,6],"title":["Rxsteer angle(°)","(b)  depth=50m"]}},"y":{"field":"y","type":"quantitative","scale":{"domain":[-6,6],"nice":false,"zero":false},"axis":{"tickCount":13,"labelOverlap":false,"values":[-6,-5,-4,-3,-2,-1,0,1,2,3,4,5,6],"title":"Along-track offset(m)"}},"color":{"field":"v","type":"quantitative","scale":{"domain":[-0.31,-0.248,-0.223,-0.186,-0.14,-0.093,-0.043,-0.019,0],"range":["#8060e0","#0000e0","#008060","#00e000","#ffff00","#ff8a00","#ff0000","#ff0000","#b01a1a"]},"legend":{"orient":"none","legendX":133,"legendY":21,"gradientLength":88,"gradientThickness":7,"title":"m","titleOrient":"bottom","values":[-0.3,-0.25,-0.2,-0.15,-0.1,-0.05],"format":".2f"}}}},{"data":{"name":"exp"},"mark":{"type":"text","align":"left","font":"Liberation Serif","fontSize":4.5,"color":"#222"},"encoding":{"x":{"field":"x","type":"quantitative"},"y":{"field":"y","type":"quantitative"},"text":{"field":"t"}}}]},{"width":230,"height":133,"data":{"name":"notes1"},"mark":{"type":"text","align":"left","font":"Noto Sans CJK SC","fontWeight":"bold","fontSize":15.2},"encoding":{"x":{"field":"c","type":"quantitative","scale":{"domain":[-0.59,14.44],"nice":false,"zero":false},"axis":null},"y":{"field":"l","type":"quantitative","scale":{"domain":[5,-0.54],"nice":false,"zero":false},"axis":null},"text":{"field":"t"},"color":{"field":"k","type":"nominal","scale":{"domain":["plain","blue","red","bullet"],"range":["#111111","#1a1a96","#b01c1c","#8c1a2a"]},"legend":null}}},{"width":129,"height":131,"layer":[{"data":{"name":"c"},"mark":{"type":"rect","width":11,"height":9,"clip":true},"encoding":{"x":{"field":"x","type":"quantitative","scale":{"domain":[-6,6],"nice":false,"zero":false},"axis":{"tickCount":13,"labelOverlap":false,"values":[-6,-5,-4,-3,-2,-1,0,1,2,3,4,5,6],"title":["Rxsteer angle(°)","(c)  depth=100m"]}},"y":{"field":"y","type":"quantitative","scale":{"domain":[-6,6],"nice":false,"zero":false},"axis":{"tickCount":13,"labelOverlap":false,"values":[-6,-5,-4,-3,-2,-1,0,1,2,3,4,5,6],"title":"Along-track offset(m)"}},"color":{"field":"v","type":"quantitative","scale":{"domain":[-0.152,-0.122,-0.109,-0.091,-0.068,-0.046,-0.021,-0.009,0],"range":["#8060e0","#0000e0","#008060","#00e000","#ffff00","#ff8a00","#ff0000","#ff0000","#b01a1a"]},"legend":{"orient":"none","legendX":133,"legendY":21,"gradientLength":90,"gradientThickness":7,"title":"m","titleOrient":"bottom","values":[-0.15,-0.12,-0.09,-0.06,-0.03,0],"format":".2f"}}}},{"data":{"name":"exp"},"mark":{"type":"text","align":"left","font":"Liberation Serif","fontSize":4.5,"color":"#222"},"encoding":{"x":{"field":"x","type":"quantitative"},"y":{"field":"y","type":"quantitative"},"text":{"field":"t"}}}]},{"width":129,"height":131,"layer":[{"data":{"name":"d"},"mark":{"type":"rect","width":11,"height":9,"clip":true},"encoding":{"x":{"field":"x","type":"quantitative","scale":{"domain":[-6,6],"nice":false,"zero":false},"axis":{"tickCount":13,"labelOverlap":false,"values":[-6,-5,-4,-3,-2,-1,0,1,2,3,4,5,6],"title":["Rxsteer angle(°)","(d)  depth=500m"]}},"y":{"field":"y","type":"quantitative","scale":{"domain":[-6,6],"nice":false,"zero":false},"axis":{"tickCount":13,"labelOverlap":false,"values":[-6,-5,-4,-3,-2,-1,0,1,2,3,4,5,6],"title":"Along-track offset(m)"}},"color":{"field":"v","type":"quantitative","scale":{"domain":[-0.0295,-0.0236,-0.0212,-0.0177,-0.0133,-0.0089,-0.0041,-0.0018,0],"range":["#8060e0","#0000e0","#008060","#00e000","#ffff00","#ff8a00","#ff0000","#ff0000","#b01a1a"]},"legend":{"orient":"none","legendX":133,"legendY":21,"gradientLength":90,"gradientThickness":7,"title":"m","titleOrient":"bottom","values":[-0.028,-0.023,-0.018,-0.013,-0.008,-0.003],"format":".3f"}}}},{"data":{"name":"exp"},"mark":{"type":"text","align":"left","font":"Liberation Serif","fontSize":4.5,"color":"#222"},"encoding":{"x":{"field":"x","type":"quantitative"},"y":{"field":"y","type":"quantitative"},"text":{"field":"t"}}}]},{"width":230,"height":131,"layer":[{"data":{"name":"notes2"},"mark":{"type":"text","align":"left","font":"Noto Sans CJK SC","fontWeight":"bold","fontSize":15.2},"encoding":{"x":{"field":"c","type":"quantitative","scale":{"domain":[-0.59,14.44],"nice":false,"zero":false},"axis":null},"y":{"field":"l","type":"quantitative","scale":{"domain":[5.17,-0.29],"nice":false,"zero":false},"axis":null},"text":{"field":"t"},"color":{"field":"k","type":"nominal","scale":{"domain":["plain","blue","red","bullet"],"range":["#111111","#1a1a96","#b01c1c","#8c1a2a"]},"legend":null}}},{"data":{"values":[{"c":1.96,"l":5.5,"t":"知乎 @Deep OceanCV"}]},"mark":{"type":"text","align":"left","font":"Noto Sans CJK SC","fontSize":18,"color":"#999999","opacity":0.7},"encoding":{"x":{"field":"c","type":"quantitative"},"y":{"field":"l","type":"quantitative"},"text":{"field":"t"}}}]}]}]}
